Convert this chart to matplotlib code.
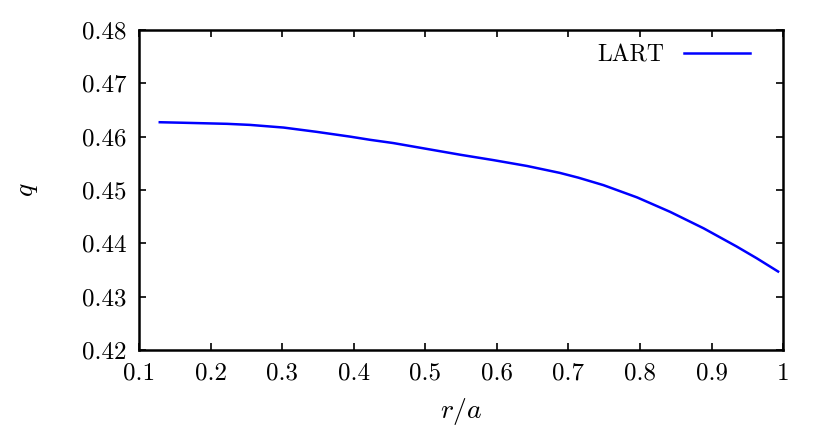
import matplotlib
matplotlib.use("Agg")
import matplotlib.pyplot as plt
from matplotlib.ticker import FuncFormatter

# profile
r_a = [0.129, 0.162, 0.223, 0.255, 0.302, 0.348, 0.395, 0.423, 0.455, 0.502,
       0.549, 0.595, 0.642, 0.688, 0.714, 0.749, 0.796, 0.842, 0.889, 0.935,
       0.963, 0.993]
q = [0.4627, 0.4626, 0.4624, 0.4622, 0.4617, 0.4609, 0.4600, 0.4594, 0.4588,
     0.4577, 0.4566, 0.4556, 0.4545, 0.4532, 0.4523, 0.4509, 0.4486, 0.4459,
     0.4428, 0.4394, 0.4372, 0.4347]

xticks = [0.1, 0.2, 0.3, 0.4, 0.5, 0.6, 0.7, 0.8, 0.9, 1.0]
yticks = [0.42, 0.43, 0.44, 0.45, 0.46, 0.47, 0.48]

plt.rcParams['font.family'] = 'serif'
plt.rcParams['font.serif'] = ['cmr10']
plt.rcParams['mathtext.fontset'] = 'cm'
plt.rcParams['axes.formatter.use_mathtext'] = True

fig = plt.figure(figsize=(8.3, 4.32), dpi=100)
ax = fig.add_axes([0.1675, 0.19, 0.776, 0.7406])

ax.plot(r_a, q, color='#0000ff', lw=1.8, label='LART')

ax.set_xlim(0.1, 1.0)
ax.set_ylim(0.42, 0.48)
ax.set_xticks(xticks)
ax.set_yticks(yticks)
ax.xaxis.set_major_formatter(FuncFormatter(lambda v, p: '%g' % round(v, 2)))
ax.yaxis.set_major_formatter(FuncFormatter(lambda v, p: '%.2f' % v))
ax.tick_params(direction='in', top=True, right=True, length=5, width=1.2,
               labelsize=18, pad=9)
for s in ax.spines.values():
    s.set_linewidth(1.8)

ax.set_xlabel('$r/a$', fontsize=20, labelpad=8)
ax.set_ylabel('$q$', fontsize=20, labelpad=30)

ax.legend(loc='upper right', frameon=False, markerfirst=False, fontsize=17,
          handlelength=2.8, borderaxespad=0.2, bbox_to_anchor=(0.97, 1.0))

fig.savefig('out.png', dpi=100)
